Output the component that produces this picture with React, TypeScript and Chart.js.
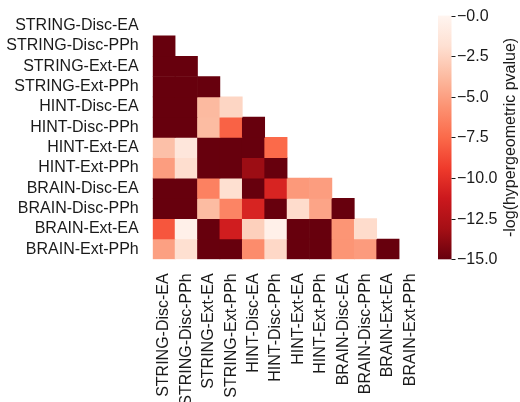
import { useEffect, useRef } from "react";
import { Chart, registerables } from "chart.js";

Chart.register(...registerables);

const labels = [
  "STRING-Disc-EA",
  "STRING-Disc-PPh",
  "STRING-Ext-EA",
  "STRING-Ext-PPh",
  "HINT-Disc-EA",
  "HINT-Disc-PPh",
  "HINT-Ext-EA",
  "HINT-Ext-PPh",
  "BRAIN-Disc-EA",
  "BRAIN-Disc-PPh",
  "BRAIN-Ext-EA",
  "BRAIN-Ext-PPh",
];

// lower-triangle rows (values for columns 0..row-1)
const rowStringDiscEA: number[] = [];
const rowStringDiscPPh = [-15];
const rowStringExtEA = [-15, -15];
const rowStringExtPPh = [-15, -15, -15];
const rowHintDiscEA = [-15, -15, -3.8, -2.4];
const rowHintDiscPPh = [-15, -15, -3.7, -7.8, -15];
const rowHintExtEA = [-3.5, -1.3, -15, -15, -15, -7.5];
const rowHintExtPPh = [-5.1, -2.0, -15, -15, -13.4, -15];
const rowBrainDiscEA = [-15, -15, -6.4, -1.9, -15, -10.6, -5.3, -5.1];
const rowBrainDiscPPh = [-15, -15, -3.7, -6.3, -10.6, -15, -2.1, -4.8, -15];
const rowBrainExtEA = [-8.3, -0.45, -15, -11.0, -2.7, -0.45, -15, -15, -5.5, -2.1];
const rowBrainExtPPh = [-5.0, -1.9, -15, -15, -5.9, -2.3, -15, -15, -5.5, -5.2, -15];

const rows = [
  rowStringDiscEA,
  rowStringDiscPPh,
  rowStringExtEA,
  rowStringExtPPh,
  rowHintDiscEA,
  rowHintDiscPPh,
  rowHintExtEA,
  rowHintExtPPh,
  rowBrainDiscEA,
  rowBrainDiscPPh,
  rowBrainExtEA,
  rowBrainExtPPh,
];

const cbTicks = [0, -2.5, -5, -7.5, -10, -12.5, -15];
const vmin = -15;
const vmax = 0;
const cbTitle = "-log(hypergeometric pvalue)";

const REDS = [
  "#fff5f0",
  "#fee0d2",
  "#fcbba1",
  "#fc9272",
  "#fb6a4a",
  "#ef3b2c",
  "#cb181d",
  "#a50f15",
  "#67000d",
];

function hexToRgb(h: string) {
  return [
    parseInt(h.slice(1, 3), 16),
    parseInt(h.slice(3, 5), 16),
    parseInt(h.slice(5, 7), 16),
  ];
}

function reds(t: number) {
  const n = REDS.length - 1;
  const x = Math.min(1, Math.max(0, t)) * n;
  const i = Math.min(n - 1, Math.floor(x));
  const f = x - i;
  const a = hexToRgb(REDS[i]);
  const b = hexToRgb(REDS[i + 1]);
  const c = a.map((v, k) => Math.round(v + (b[k] - v) * f));
  return `rgb(${c[0]},${c[1]},${c[2]})`;
}

function colorFor(v: number) {
  return reds((vmax - v) / (vmax - vmin));
}

const FONT = "'Liberation Sans', Arial, sans-serif";
const TEXT = "#1a1a1a";

const colorbarPlugin = {
  id: "colorbar",
  afterDraw(chart: any) {
    const ctx = chart.ctx as CanvasRenderingContext2D;
    const area = chart.chartArea;
    const cb = chart.scales.cb;
    const x0 = area.right + 16.5;
    const w = 13.5;
    const top = cb.getPixelForValue(vmax);
    const bottom = cb.getPixelForValue(vmin);
    ctx.save();
    const g = ctx.createLinearGradient(0, top, 0, bottom);
    REDS.forEach((c, i) => g.addColorStop(i / (REDS.length - 1), c));
    ctx.fillStyle = g;
    ctx.fillRect(x0, top, w, bottom - top);
    ctx.strokeStyle = TEXT;
    ctx.lineWidth = 1;
    ctx.fillStyle = TEXT;
    ctx.font = `16px ${FONT}`;
    ctx.textAlign = "left";
    ctx.textBaseline = "middle";
    cbTicks.forEach((t) => {
      const y = Math.round(cb.getPixelForValue(t)) + 0.5;
      ctx.beginPath();
      ctx.moveTo(x0 + w, y);
      ctx.lineTo(x0 + w + 4, y);
      ctx.stroke();
      const s = "\u2212" + Math.abs(t).toFixed(1);
      ctx.fillText(s, x0 + w + 5.5, y);
    });
    ctx.translate(511, (top + bottom) / 2);
    ctx.rotate(-Math.PI / 2);
    ctx.textAlign = "center";
    ctx.fillText(cbTitle, 0, 0);
    ctx.restore();
  },
};

export default function App() {
  const ref = useRef<HTMLCanvasElement | null>(null);
  useEffect(() => {
    if (!ref.current) return;
    const datasets = rows.map((vals, i) => ({
      label: labels[i],
      data: labels.map((_, j) => (j < vals.length ? [i, i + 1] : null)),
      backgroundColor: labels.map((_, j) =>
        j < vals.length ? colorFor(vals[j]) : "rgba(0,0,0,0)"
      ),
      borderWidth: 0,
      grouped: false,
      barPercentage: 1,
      categoryPercentage: 1,
    }));
    const chart = new Chart(ref.current, {
      type: "bar",
      data: { labels, datasets: datasets as any },
      options: {
        animation: false,
        responsive: false,
        layout: { padding: { top: 15, right: 98.5, left: 0, bottom: 0 } },
        plugins: { legend: { display: false }, tooltip: { enabled: false } },
        scales: {
          x: {
            type: "category",
            offset: true,
            grid: { display: false },
            border: { display: false },
            ticks: {
              minRotation: 90,
              maxRotation: 90,
              autoSkip: false,
              padding: 6,
              color: TEXT,
              font: { size: 16, family: FONT },
            },
            afterFit: (s: any) => {
              s.height = 142.7;
            },
          },
          y: {
            type: "linear",
            min: 0,
            max: 12,
            reverse: true,
            grid: { display: false },
            border: { display: false },
            afterBuildTicks: (s: any) => {
              s.ticks = labels.map((_, i) => ({ value: i + 0.5 }));
            },
            ticks: {
              autoSkip: false,
              padding: 6,
              color: TEXT,
              font: { size: 16, family: FONT },
              callback: (v: any) => labels[Math.floor(Number(v))],
            },
            afterFit: (s: any) => {
              s.width = 152.7;
            },
          },
          cb: {
            type: "linear",
            axis: "y",
            position: "right",
            display: false,
            min: vmin,
            max: vmax,
          },
        },
      },
      plugins: [colorbarPlugin],
    });
    return () => chart.destroy();
  }, []);
  return (
    <div style={{ position: "absolute", left: 0, top: 0, width: 520, height: 402, background: "#fff" }}>
      <canvas ref={ref} width={520} height={402} />
    </div>
  );
}
